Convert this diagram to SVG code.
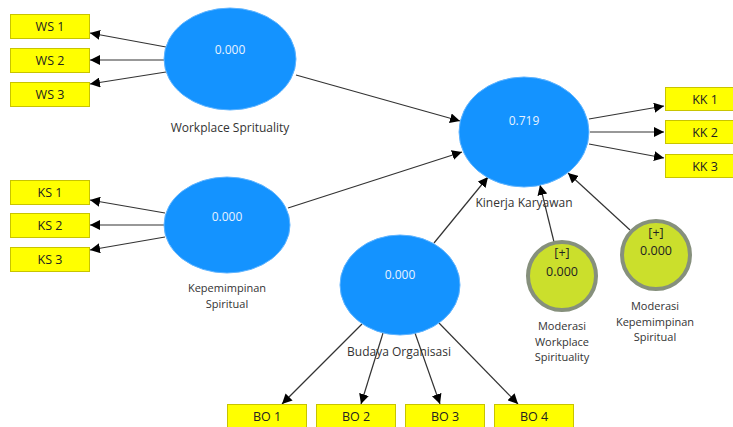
<svg xmlns="http://www.w3.org/2000/svg" width="733" height="427" viewBox="0 0 733 427">
<defs>
<marker id="ah" viewBox="0 0 10 10" refX="10" refY="5" markerWidth="10" markerHeight="10" markerUnits="userSpaceOnUse" orient="auto">
<path d="M0,0 L10,5 L0,10 Z" fill="#000"/>
</marker>
<style>
.lv{fill:#1493ff;stroke:#5fb4ff;stroke-width:1}
.ind{fill:#ffff00;stroke:#c8c400;stroke-width:1}
.mod{fill:#cbdf2c;stroke:#86907c;stroke-width:4}
.t{font-family:"Open Sans","Noto Sans","Liberation Sans",sans-serif;font-size:12.5px;fill:#222;text-anchor:middle}
.tw{font-family:"Open Sans","Noto Sans","Liberation Sans",sans-serif;font-size:12px;fill:#e8f2ff;text-anchor:middle}
.lab{font-family:"Open Sans","Noto Sans","Liberation Sans",sans-serif;font-size:12px;fill:#333;text-anchor:middle}
.ml{font-family:"Open Sans","Noto Sans","Liberation Sans",sans-serif;font-size:11px;fill:#333;text-anchor:middle}
.c{stroke:#333;stroke-width:1.2;fill:none;marker-end:url(#ah)}
</style>
</defs>
<rect width="733" height="427" fill="#fff"/>
<g id="connectors">
<line class="c" x1="166" y1="47" x2="90" y2="33"/>
<line class="c" x1="164" y1="60" x2="90" y2="60"/>
<line class="c" x1="166" y1="72" x2="90" y2="84"/>
<line class="c" x1="165" y1="213" x2="90" y2="200"/>
<line class="c" x1="164" y1="225" x2="90" y2="225"/>
<line class="c" x1="165" y1="237" x2="90" y2="250"/>
<line class="c" x1="296" y1="75" x2="460" y2="121"/>
<line class="c" x1="288" y1="208" x2="462" y2="152"/>
<line class="c" x1="434" y1="243" x2="488" y2="177"/>
<line class="c" x1="554" y1="242" x2="540" y2="185"/>
<line class="c" x1="630" y1="230" x2="568" y2="173"/>
<line class="c" x1="589" y1="119" x2="664" y2="106"/>
<line class="c" x1="590" y1="132" x2="664" y2="132"/>
<line class="c" x1="589" y1="144" x2="664" y2="158"/>
<line class="c" x1="362" y1="324" x2="282" y2="404"/>
<line class="c" x1="383" y1="333" x2="361" y2="404"/>
<line class="c" x1="415" y1="333" x2="440" y2="404"/>
<line class="c" x1="439" y1="323" x2="518" y2="404"/>
</g>
<g id="WS1"><rect class="ind" x="10.5" y="14.5" width="79" height="24"/><text class="t" x="50" y="31">WS 1</text></g>
<g id="WS2"><rect class="ind" x="10.5" y="48.5" width="79" height="24"/><text class="t" x="50" y="65">WS 2</text></g>
<g id="WS3"><rect class="ind" x="10.5" y="82.5" width="79" height="24"/><text class="t" x="50" y="99">WS 3</text></g>
<g id="KS1"><rect class="ind" x="10.5" y="180.5" width="79" height="24"/><text class="t" x="50" y="197">KS 1</text></g>
<g id="KS2"><rect class="ind" x="10.5" y="213.5" width="79" height="24"/><text class="t" x="50" y="230">KS 2</text></g>
<g id="KS3"><rect class="ind" x="10.5" y="247.5" width="79" height="24"/><text class="t" x="50" y="264">KS 3</text></g>
<g id="KK1"><rect class="ind" x="665.5" y="87.5" width="79" height="23"/><text class="t" x="705" y="103.5">KK 1</text></g>
<g id="KK2"><rect class="ind" x="665.5" y="120.5" width="79" height="23"/><text class="t" x="705" y="136.5">KK 2</text></g>
<g id="KK3"><rect class="ind" x="665.5" y="154.5" width="79" height="23"/><text class="t" x="705" y="170.5">KK 3</text></g>
<g id="BO1"><rect class="ind" x="227.5" y="404.5" width="79" height="24"/><text class="t" x="267" y="420.5">BO 1</text></g>
<g id="BO2"><rect class="ind" x="316.5" y="404.5" width="79" height="24"/><text class="t" x="356" y="420.5">BO 2</text></g>
<g id="BO3"><rect class="ind" x="405.5" y="404.5" width="79" height="24"/><text class="t" x="445" y="420.5">BO 3</text></g>
<g id="BO4"><rect class="ind" x="494.5" y="404.5" width="79" height="24"/><text class="t" x="534" y="420.5">BO 4</text></g>
<g id="WorkplaceSprituality">
<ellipse class="lv" cx="230" cy="59" rx="66" ry="51"/>
<text class="tw" x="230" y="54">0.000</text>
<text class="lab" x="230" y="132">Workplace Sprituality</text>
</g>
<g id="KepemimpinanSpiritual">
<ellipse class="lv" cx="227" cy="225" rx="63" ry="48"/>
<text class="tw" x="227" y="221">0.000</text>
<text class="ml" x="227" y="292">Kepemimpinan</text>
<text class="ml" x="227" y="308">Spiritual</text>
</g>
<g id="KinerjaKaryawan">
<ellipse class="lv" cx="524" cy="132" rx="65" ry="55"/>
<text class="tw" x="524" y="125">0.719</text>
<text class="lab" x="524" y="207">Kinerja Karyawan</text>
</g>
<g id="BudayaOrganisasi">
<ellipse class="lv" cx="400" cy="285" rx="60" ry="50"/>
<text class="tw" x="400" y="279">0.000</text>
<text class="lab" x="399" y="356">Budaya Organisasi</text>
</g>
<g id="ModerasiWS">
<circle class="mod" cx="562" cy="276" r="34"/>
<text class="t" x="562" y="257">[+]</text>
<text class="t" x="562" y="276">0.000</text>
<text class="ml" x="562" y="330">Moderasi</text>
<text class="ml" x="562" y="345.5">Workplace</text>
<text class="ml" x="562" y="361">Spirituality</text>
</g>
<g id="ModerasiKS">
<circle class="mod" cx="656" cy="255" r="34"/>
<text class="t" x="656" y="237">[+]</text>
<text class="t" x="656" y="255">0.000</text>
<text class="ml" x="655" y="310">Moderasi</text>
<text class="ml" x="655" y="325.5">Kepemimpinan</text>
<text class="ml" x="655" y="341">Spiritual</text>
</g>
</svg>
